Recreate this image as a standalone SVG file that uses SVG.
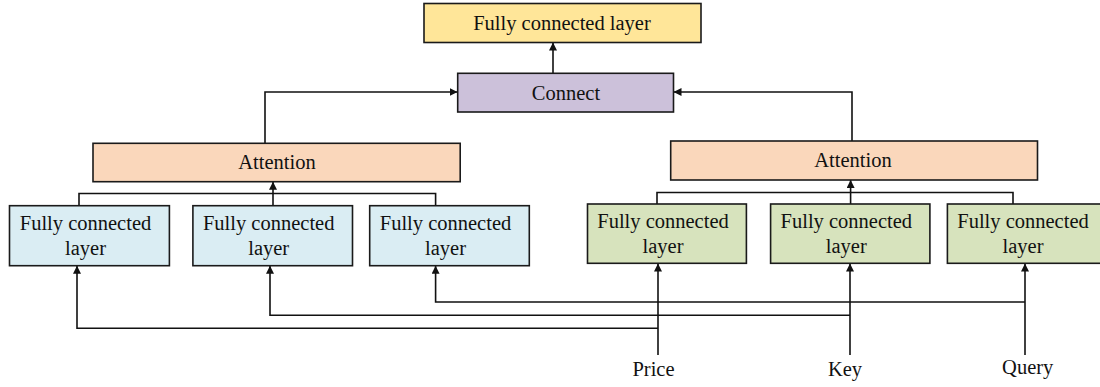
<svg xmlns="http://www.w3.org/2000/svg" width="1100" height="387" viewBox="0 0 1100 387">
<style>
.box{stroke:#1a1a1a;stroke-width:1.6}
.fc{fill:#FFE699}.cn{fill:#CCC1DA}.at{fill:#FAD7BB}.bl{fill:#DAEDF3}.gr{fill:#D7E3BD}
text{font-family:"Liberation Serif","Times New Roman",serif;font-size:20.5px;fill:#111;text-anchor:middle}
.ln{fill:none;stroke:#111;stroke-width:1.6}
</style>
<defs>
<marker id="ah" viewBox="0 0 10 10" refX="10" refY="5" markerWidth="8" markerHeight="8" markerUnits="userSpaceOnUse" orient="auto">
<path d="M0,0 L10,5 L0,10 z" fill="#111"/>
</marker>
</defs>
<g id="connectors">
<path class="ln" d="M553,73 V42.5" marker-end="url(#ah)"/>
<path class="ln" d="M265,143 V92 H457.5" marker-end="url(#ah)"/>
<path class="ln" d="M852,141 V92 H673.5" marker-end="url(#ah)"/>
<path class="ln" d="M79,205.5 V193.5 H435.6 V205.5"/>
<path class="ln" d="M273,205.5 V181.7" marker-end="url(#ah)"/>
<path class="ln" d="M657,204 V192.5 H1013 V204"/>
<path class="ln" d="M850.6,204 V180" marker-end="url(#ah)"/>
<path class="ln" d="M658,355 V263.5" marker-end="url(#ah)"/>
<path class="ln" d="M850,355 V263.5" marker-end="url(#ah)"/>
<path class="ln" d="M1025,355 V263.5" marker-end="url(#ah)"/>
<path class="ln" d="M1025,302 H435.6 V265.8" marker-end="url(#ah)"/>
<path class="ln" d="M850,315.3 H270 V265.8" marker-end="url(#ah)"/>
<path class="ln" d="M658,328.3 H77 V265.8" marker-end="url(#ah)"/>
</g>
<g id="fc-top"><rect class="box fc" x="424" y="3.5" width="277" height="39"/><text x="562" y="29.5">Fully connected layer</text></g>
<g id="connect"><rect class="box cn" x="457.7" y="73.3" width="215.8" height="38.7"/><text x="566" y="99.5">Connect</text></g>
<g id="attention-left"><rect class="box at" x="93" y="143.3" width="367.2" height="38.4"/><text x="277" y="168.5">Attention</text></g>
<g id="attention-right"><rect class="box at" x="670.7" y="141" width="366.8" height="39"/><text x="853" y="166.5">Attention</text></g>
<g id="fc-b1"><rect class="box bl" x="9.5" y="205.7" width="159.9" height="60"/><text x="85.5" y="230">Fully connected</text><text x="85.5" y="255">layer</text></g>
<g id="fc-b2"><rect class="box bl" x="192.9" y="205.7" width="159.6" height="60"/><text x="268.7" y="230">Fully connected</text><text x="268.7" y="255">layer</text></g>
<g id="fc-b3"><rect class="box bl" x="369.7" y="205.7" width="159.6" height="60"/><text x="445.5" y="230">Fully connected</text><text x="445.5" y="255">layer</text></g>
<g id="fc-g1"><rect class="box gr" x="587.5" y="204" width="158.9" height="59.3"/><text x="663" y="228.3">Fully connected</text><text x="663" y="252.7">layer</text></g>
<g id="fc-g2"><rect class="box gr" x="770.6" y="204" width="159.3" height="59.3"/><text x="846.3" y="228.3">Fully connected</text><text x="846.3" y="252.7">layer</text></g>
<g id="fc-g3"><rect class="box gr" x="947.4" y="204" width="159.3" height="59.3"/><text x="1023" y="228.3">Fully connected</text><text x="1023" y="252.7">layer</text></g>
<g id="price"><text x="653.5" y="375.5">Price</text></g>
<g id="key"><text x="845" y="375.5">Key</text></g>
<g id="query"><text x="1027.7" y="373.5">Query</text></g>
</svg>
